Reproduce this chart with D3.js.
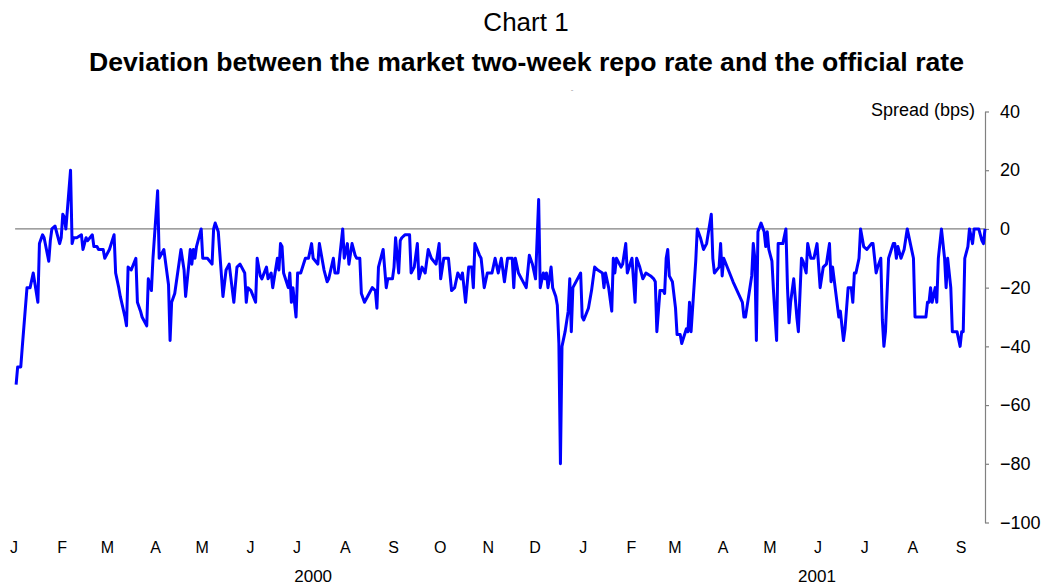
<!DOCTYPE html>
<html>
<head>
<meta charset="utf-8">
<script src="https://cdn.jsdelivr.net/npm/d3@7"></script>
<style>
  body { margin: 0; background: #fff; }
  svg { display: block; font-family: Arial, "Liberation Sans", sans-serif; }
</style>
</head>
<body>
<svg id="chart" width="1041" height="587"></svg>
<script>
// Daily spread of the market two-week repo rate over the official rate (bps)
const dates = [
  "2000-01-03","2000-01-04","2000-01-06","2000-01-07","2000-01-10","2000-01-12","2000-01-14","2000-01-17","2000-01-18","2000-01-20",
  "2000-01-21","2000-01-24","2000-01-25","2000-01-26","2000-01-28","2000-01-31","2000-02-01","2000-02-02","2000-02-03","2000-02-04",
  "2000-02-07","2000-02-08","2000-02-09","2000-02-11","2000-02-14","2000-02-15","2000-02-17","2000-02-18","2000-02-21","2000-02-22",
  "2000-02-24","2000-02-25","2000-02-28","2000-02-29","2000-03-03","2000-03-06","2000-03-07","2000-03-09","2000-03-10","2000-03-13",
  "2000-03-14","2000-03-15","2000-03-17","2000-03-20","2000-03-21","2000-03-23","2000-03-24","2000-03-27","2000-03-28","2000-03-30",
  "2000-03-31","2000-04-03","2000-04-04","2000-04-07","2000-04-10","2000-04-11","2000-04-12","2000-04-14","2000-04-18","2000-04-20",
  "2000-04-21","2000-04-24","2000-04-25","2000-04-26","2000-04-27","2000-04-28","2000-05-01","2000-05-02","2000-05-05","2000-05-08",
  "2000-05-09","2000-05-10","2000-05-12","2000-05-15","2000-05-17","2000-05-19","2000-05-22","2000-05-24","2000-05-26","2000-05-29",
  "2000-05-30","2000-05-31","2000-06-02","2000-06-05","2000-06-06","2000-06-08","2000-06-09","2000-06-12","2000-06-13","2000-06-15",
  "2000-06-16","2000-06-19","2000-06-20","2000-06-21","2000-06-22","2000-06-23","2000-06-26","2000-06-27","2000-06-28","2000-06-29",
  "2000-06-30","2000-07-01","2000-07-02","2000-07-04","2000-07-07","2000-07-09","2000-07-11","2000-07-12","2000-07-15","2000-07-16",
  "2000-07-19","2000-07-21","2000-07-22","2000-07-25","2000-07-26","2000-07-28","2000-07-29","2000-07-31","2000-08-01","2000-08-03",
  "2000-08-04","2000-08-06","2000-08-08","2000-08-09","2000-08-11","2000-08-12","2000-08-14","2000-08-16","2000-08-19","2000-08-21",
  "2000-08-22","2000-08-23","2000-08-26","2000-08-28","2000-08-29","2000-09-01","2000-09-02","2000-09-03","2000-09-05","2000-09-06",
  "2000-09-07","2000-09-09","2000-09-12","2000-09-13","2000-09-15","2000-09-17","2000-09-18","2000-09-20","2000-09-22","2000-09-24",
  "2000-09-26","2000-09-29","2000-10-01","2000-10-02","2000-10-04","2000-10-07","2000-10-09","2000-10-11","2000-10-13","2000-10-15",
  "2000-10-16","2000-10-18","2000-10-20","2000-10-22","2000-10-23","2000-10-24","2000-10-27","2000-10-28","2000-10-30","2000-11-01",
  "2000-11-04","2000-11-06","2000-11-08","2000-11-10","2000-11-12","2000-11-13","2000-11-14","2000-11-17","2000-11-18","2000-11-19",
  "2000-11-21","2000-11-23","2000-11-26","2000-11-28","2000-11-30","2000-12-02","2000-12-04","2000-12-05","2000-12-07","2000-12-08",
  "2000-12-09","2000-12-10","2000-12-12","2000-12-13","2000-12-15","2000-12-16","2000-12-17","2000-12-18","2000-12-19","2000-12-21",
  "2000-12-23","2000-12-24","2000-12-25","2000-12-26","2000-12-31","2001-01-01","2001-01-02","2001-01-05","2001-01-07","2001-01-09",
  "2001-01-11","2001-01-14","2001-01-15","2001-01-16","2001-01-18","2001-01-20","2001-01-21","2001-01-22","2001-01-23","2001-01-26",
  "2001-01-27","2001-01-29","2001-01-30","2001-02-02","2001-02-04","2001-02-05","2001-02-07","2001-02-09","2001-02-11","2001-02-14",
  "2001-02-16","2001-02-17","2001-02-18","2001-02-20","2001-02-22","2001-02-23","2001-02-24","2001-02-25","2001-02-26","2001-02-28",
  "2001-03-02","2001-03-03","2001-03-05","2001-03-06","2001-03-09","2001-03-10","2001-03-11","2001-03-12","2001-03-15","2001-03-16",
  "2001-03-18","2001-03-20","2001-03-22","2001-03-25","2001-03-26","2001-03-27","2001-03-30","2001-03-31","2001-04-01","2001-04-02",
  "2001-04-08","2001-04-14","2001-04-15","2001-04-16","2001-04-20","2001-04-21","2001-04-22","2001-04-23","2001-04-24","2001-04-26",
  "2001-04-28","2001-04-29","2001-04-30","2001-05-01","2001-05-03","2001-05-04","2001-05-06","2001-05-07","2001-05-10","2001-05-12",
  "2001-05-13","2001-05-14","2001-05-15","2001-05-17","2001-05-19","2001-05-20","2001-05-22","2001-05-23","2001-05-25","2001-05-26",
  "2001-05-28","2001-05-30","2001-06-01","2001-06-03","2001-06-05","2001-06-07","2001-06-09","2001-06-10","2001-06-11","2001-06-15",
  "2001-06-16","2001-06-18","2001-06-19","2001-06-21","2001-06-23","2001-06-24","2001-06-25","2001-06-26","2001-06-28","2001-06-29",
  "2001-07-01","2001-07-03","2001-07-06","2001-07-07","2001-07-09","2001-07-10","2001-07-12","2001-07-13","2001-07-14","2001-07-15",
  "2001-07-17","2001-07-20","2001-07-21","2001-07-22","2001-07-23","2001-07-25","2001-07-27","2001-07-29","2001-07-31","2001-08-02",
  "2001-08-03","2001-08-05","2001-08-06","2001-08-10","2001-08-11","2001-08-12","2001-08-13","2001-08-14","2001-08-16","2001-08-17",
  "2001-08-18","2001-08-20","2001-08-22","2001-08-23","2001-08-24","2001-08-26","2001-08-27","2001-08-29","2001-08-30","2001-09-01",
  "2001-09-02","2001-09-03","2001-09-04","2001-09-06","2001-09-07","2001-09-09","2001-09-10","2001-09-12","2001-09-13","2001-09-15",
  "2001-09-16","2001-09-17"
];

const spread = [
  -53,-47,-47,-40,-20,-20,-15,-25,-5,-2,
  -3,-11,-4,0,1,-5,-3,5,4,0,
  20,-5,-3,-3,-2,-7,-3,-4,-2,-6,
  -6,-7,-7,-10,-7,-2,-15,-20,-23,-30,
  -33,-13,-14,-10,-25,-28,-30,-33,-17,-21,
  -10,13,-10,-7,-19,-38,-25,-22,-7,-14,
  -23,-7,-12,-7,-10,-6,0,-10,-10,-12,
  0,2,-1,-23,-14,-12,-25,-13,-12,-15,
  -25,-20,-21,-25,-10,-16,-17,-13,-17,-15,
  -20,-10,-14,-5,-6,-15,-20,-15,-25,-20,
  -25,-30,-15,-15,-10,-10,-5,-10,-12,-5,
  -14,-18,-17,-10,-15,-15,-10,0,-10,-5,
  -12,-5,-9,-10,-10,-22,-25,-23,-20,-21,
  -27,-13,-7,-20,-17,-17,-13,-3,-15,-4,
  -3,-2,-2,-15,-13,-5,-17,-13,-15,-7,
  -10,-12,-5,-17,-10,-10,-21,-20,-15,-17,
  -15,-25,-13,-13,-20,-5,-9,-10,-20,-15,
  -15,-10,-15,-10,-18,-14,-10,-10,-20,-10,
  -15,-17,-20,-9,-12,-17,10,-20,-15,-17,
  -15,-20,-13,-20,-23,-26,-39,-80,-40,-35,
  -28,-17,-35,-20,-15,-30,-31,-27,-21,-13,
  -14,-15,-20,-15,-20,-28,-10,-15,-10,-13,
  -12,-5,-15,-10,-25,-10,-13,-17,-15,-16,
  -17,-18,-35,-21,-21,-22,-10,-7,-16,-18,
  -27,-36,-36,-39,-34,-35,-25,-35,-11,0,
  -3,-7,-5,5,-10,-15,-13,-5,-16,-10,
  -18,-25,-30,-30,-16,-5,-10,-38,-1,2,
  -1,-6,-1,-7,-11,-21,-38,-5,-5,0,
  -20,-32,-25,-17,-30,-35,-10,-11,-15,-5,
  -10,-10,-5,-20,-13,-12,-5,-18,-13,-30,
  -28,-38,-34,-20,-20,-25,-15,-15,-10,0,
  -6,-7,-5,-5,-15,-13,-10,-31,-40,-35,
  -10,-5,-5,-10,-6,-10,-7,0,-5,-10,
  -30,-30,-30,-30,-25,-25,-20,-25,-20,-25,
  -10,0,-10,-20,-10,-20,-35,-35,-35,-40,
  -35,-35,-10,-6,0,-5,0,0,0,-4,
  -5,0
];

const monthLabels = ["J","F","M","A","M","J","J","A","S","O","N","D",
                     "J","F","M","A","M","J","J","A","S"];
const yearLabels = ["2000", "2001"];
const yearLabelDates = ["2000-07-12", "2001-06-01"];
const yTicks = [40, 20, 0, -20, -40, -60, -80, -100];

const parse = d3.utcParse("%Y-%m-%d");
const series = dates.map((d, i) => ({ date: parse(d), value: spread[i] }));

const svg = d3.select("#chart");

const x = d3.scaleUtc()
  .domain([parse("2000-01-01"), parse("2001-09-17")])
  .range([13, 985]);

const y = d3.scaleLinear()
  .domain([-100, 40])
  .range([522.5, 111.5]);

// Titles
svg.append("text")
  .attr("x", 526).attr("y", 31)
  .attr("text-anchor", "middle")
  .style("font-size", "26px")
  .text("Chart 1");

svg.append("text")
  .attr("x", 526.5).attr("y", 71)
  .attr("text-anchor", "middle")
  .style("font-size", "26.6px")
  .style("font-weight", "bold")
  .text("Deviation between the market two-week repo rate and the official rate");

svg.append("text")
  .attr("x", 572).attr("y", 92)
  .attr("text-anchor", "middle")
  .style("font-size", "8px")
  .attr("fill", "#999")
  .text("-");

// Zero reference line
svg.append("line")
  .attr("x1", x(series[0].date) - 1).attr("x2", x.range()[1])
  .attr("y1", y(0)).attr("y2", y(0))
  .attr("stroke", "#808080").attr("stroke-width", 1.2);

// Right-hand value axis
const yAxis = svg.append("g")
  .attr("transform", `translate(${x.range()[1]},0)`)
  .call(d3.axisRight(y).tickValues(yTicks).tickSize(4).tickSizeOuter(0).tickPadding(11));
yAxis.select(".domain").attr("stroke", "#808080").attr("stroke-width", 1.2);
yAxis.selectAll(".tick line").attr("stroke", "#808080").attr("stroke-width", 1.2);
yAxis.selectAll(".tick text")
  .attr("fill", "#000")
  .style("font-size", "18px")
  .style("font-family", "Arial, 'Liberation Sans', sans-serif");

svg.append("text")
  .attr("x", 975).attr("y", 116)
  .attr("text-anchor", "end")
  .style("font-size", "18px")
  .text("Spread (bps)");

// Month initials along the bottom
const months = d3.utcMonth.range(parse("2000-01-01"), parse("2001-09-02"));
svg.append("g").selectAll("text")
  .data(months)
  .join("text")
  .attr("x", d => x(d) + 1)
  .attr("y", 553)
  .attr("text-anchor", "middle")
  .style("font-size", "16px")
  .text((d, i) => monthLabels[i]);

svg.append("g").selectAll("text")
  .data(yearLabels)
  .join("text")
  .attr("x", (d, i) => x(parse(yearLabelDates[i])))
  .attr("y", 582)
  .attr("text-anchor", "middle")
  .style("font-size", "17px")
  .text(d => d);

// Spread series
const line = d3.line()
  .x(d => x(d.date))
  .y(d => y(d.value));

svg.append("path")
  .datum(series)
  .attr("fill", "none")
  .attr("stroke", "#0000ff")
  .attr("stroke-width", 3)
  .attr("stroke-linejoin", "round")
  .attr("d", line);
</script>
</body>
</html>
